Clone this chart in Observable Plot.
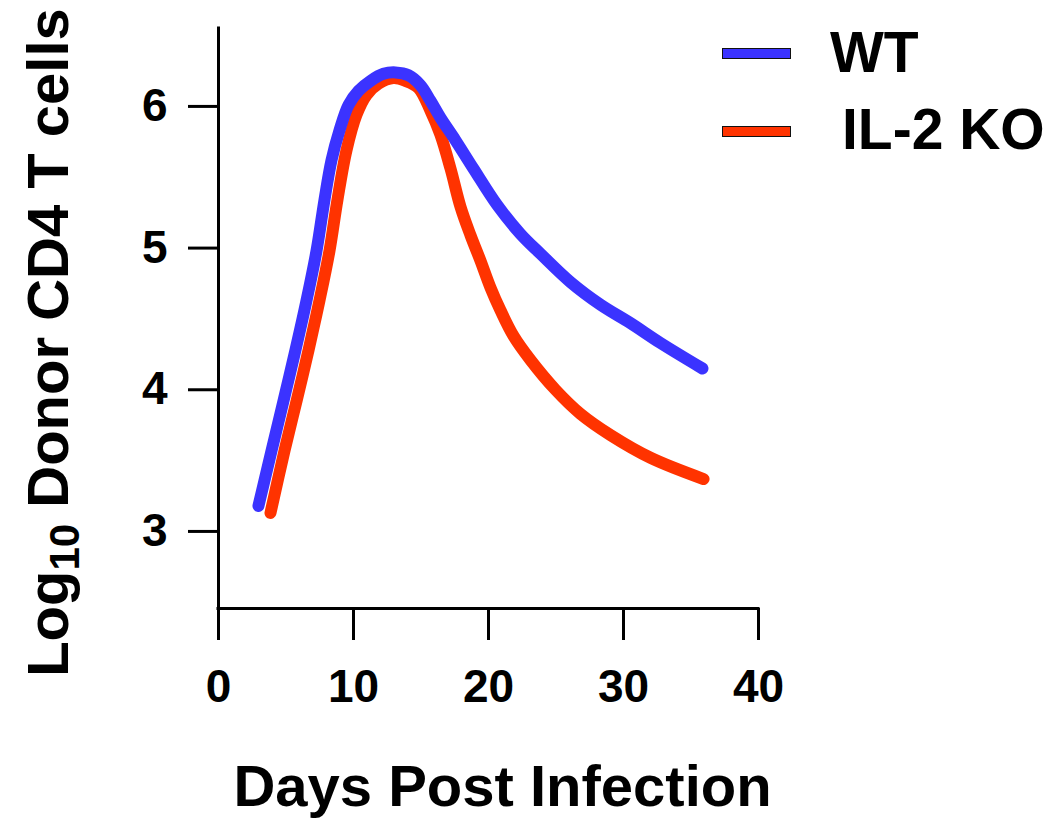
<!DOCTYPE html>
<html>
<head>
<meta charset="utf-8">
<script src="https://cdn.jsdelivr.net/npm/d3@7"></script>
<script src="https://cdn.jsdelivr.net/npm/@observablehq/plot@0.6"></script>
<style>
  html, body { margin: 0; padding: 0; background: #fff; }
  #wrap { position: relative; width: 1050px; height: 822px; font-family: "Liberation Sans", Arial, Helvetica, sans-serif; font-weight: bold; }
  #chart svg { display: block; }
  .swatch { position: absolute; width: 67px; height: 9px; border: 1.5px solid #111; }
  .legend-label { position: absolute; font-size: 57px; line-height: 57px; color: #000; white-space: nowrap; }
</style>
</head>
<body>
<div id="wrap">
  <div id="chart"></div>
  <div id="legend"></div>
</div>
<script>
// ---- data ----
const seriesNames = ["WT", "IL-2 KO"];
const seriesColors = ["#3b33ff", "#ff3300"];

const wtDays = [2.96, 3.93, 4.81, 5.70, 6.52, 7.26, 7.85, 8.37, 8.96, 9.63, 10.37, 11.26, 12.22, 13.11, 14.07, 14.96, 15.70, 16.44, 17.56, 18.89, 20.67, 22.37, 23.85, 26.07, 28.30, 30.52, 32.74, 35.85];
const wtLog  = [3.18, 3.57, 3.92, 4.28, 4.63, 4.98, 5.34, 5.62, 5.83, 6.01, 6.11, 6.18, 6.23, 6.24, 6.22, 6.15, 6.04, 5.92, 5.76, 5.56, 5.30, 5.10, 4.96, 4.76, 4.60, 4.47, 4.33, 4.15];

const koDays = [3.85, 4.89, 5.78, 6.67, 7.48, 8.22, 8.81, 9.48, 10.22, 10.96, 11.85, 12.96, 13.85, 14.81, 15.70, 16.44, 17.19, 17.93, 18.67, 19.41, 20.15, 20.89, 21.85, 23.11, 24.96, 26.81, 29.04, 32.00, 35.93];
const koLog  = [3.13, 3.57, 3.92, 4.28, 4.63, 4.98, 5.34, 5.69, 5.94, 6.08, 6.16, 6.20, 6.18, 6.13, 5.97, 5.80, 5.56, 5.29, 5.09, 4.91, 4.72, 4.56, 4.38, 4.21, 4.00, 3.83, 3.68, 3.52, 3.37];

const xTicks = [0, 10, 20, 30, 40];
const yTicks = [3, 4, 5, 6];
const xDomain = [0, 40];
const yDomain = [2.456, 6.55];
const xLabel = "Days Post Infection";
const yLabelParts = ["Log", "10", " Donor CD4 T cells"];
const yLabel = yLabelParts.join("");

// ---- build tables ----
const wt = wtDays.map((d, i) => ({day: d, value: wtLog[i], series: seriesNames[0]}));
const ko = koDays.map((d, i) => ({day: d, value: koLog[i], series: seriesNames[1]}));

const font = "'Liberation Sans', Arial, Helvetica, sans-serif";

const chart = Plot.plot({
  width: 1050,
  height: 822,
  marginLeft: 218,
  marginRight: 292,
  marginTop: 28,
  marginBottom: 214,
  style: {fontFamily: font, fontWeight: "bold", color: "#000", background: "#fff", overflow: "visible"},
  x: {domain: xDomain},
  y: {domain: yDomain},
  color: {domain: seriesNames, range: seriesColors},
  marks: [
    Plot.axisX({ticks: xTicks, tickFormat: "d", tickSize: 32, tickPadding: 29, fontSize: 46, fontWeight: "bold", strokeWidth: 3, label: null}),
    Plot.axisY({ticks: yTicks, tickFormat: "d", tickSize: 30, tickPadding: 21, fontSize: 46, fontWeight: "bold", strokeWidth: 3, label: null}),
    Plot.ruleX([xDomain[0]], {strokeWidth: 3, strokeLinecap: "square"}),
    Plot.ruleY([yDomain[0]], {strokeWidth: 3, strokeLinecap: "square"}),
    Plot.line(ko, {x: "day", y: "value", stroke: "series", strokeWidth: 12, curve: "catmull-rom", strokeLinecap: "round", strokeLinejoin: "round"}),
    Plot.line(wt, {x: "day", y: "value", stroke: "series", strokeWidth: 12, curve: "catmull-rom", strokeLinecap: "round", strokeLinejoin: "round"}),
    Plot.text([xLabel], {frameAnchor: "bottom", lineAnchor: "bottom", textAnchor: "middle", dx: 14, dy: 197, fontSize: 58, fontWeight: "bold", fill: "#000"}),
    Plot.text([yLabel], {frameAnchor: "left", lineAnchor: "bottom", textAnchor: "middle", rotate: -90, dx: -151, dy: 24, fontSize: 58, fontWeight: "bold", fill: "#000"})
  ]
});
document.getElementById("chart").appendChild(chart);

// subscript in the y label
d3.select(chart).selectAll("text").each(function() {
  if (this.textContent === yLabel) {
    const t = d3.select(this);
    t.text(null);
    t.append("tspan").text(yLabelParts[0]);
    t.append("tspan").attr("font-size", 42).attr("dy", 11).text(yLabelParts[1]);
    t.append("tspan").attr("dy", -11).text(yLabelParts[2]);
  }
});

// legend
const legend = d3.select("#legend");
const legendTops = [48, 126];
const labelTops = [24, 101];
const labelLefts = [830, 842];
seriesNames.forEach((name, i) => {
  legend.append("div").attr("class", "swatch")
    .style("left", "722px").style("top", legendTops[i] + "px")
    .style("background", seriesColors[i]);
  legend.append("div").attr("class", "legend-label")
    .style("left", labelLefts[i] + "px").style("top", labelTops[i] + "px")
    .text(name);
});
</script>
</body>
</html>
